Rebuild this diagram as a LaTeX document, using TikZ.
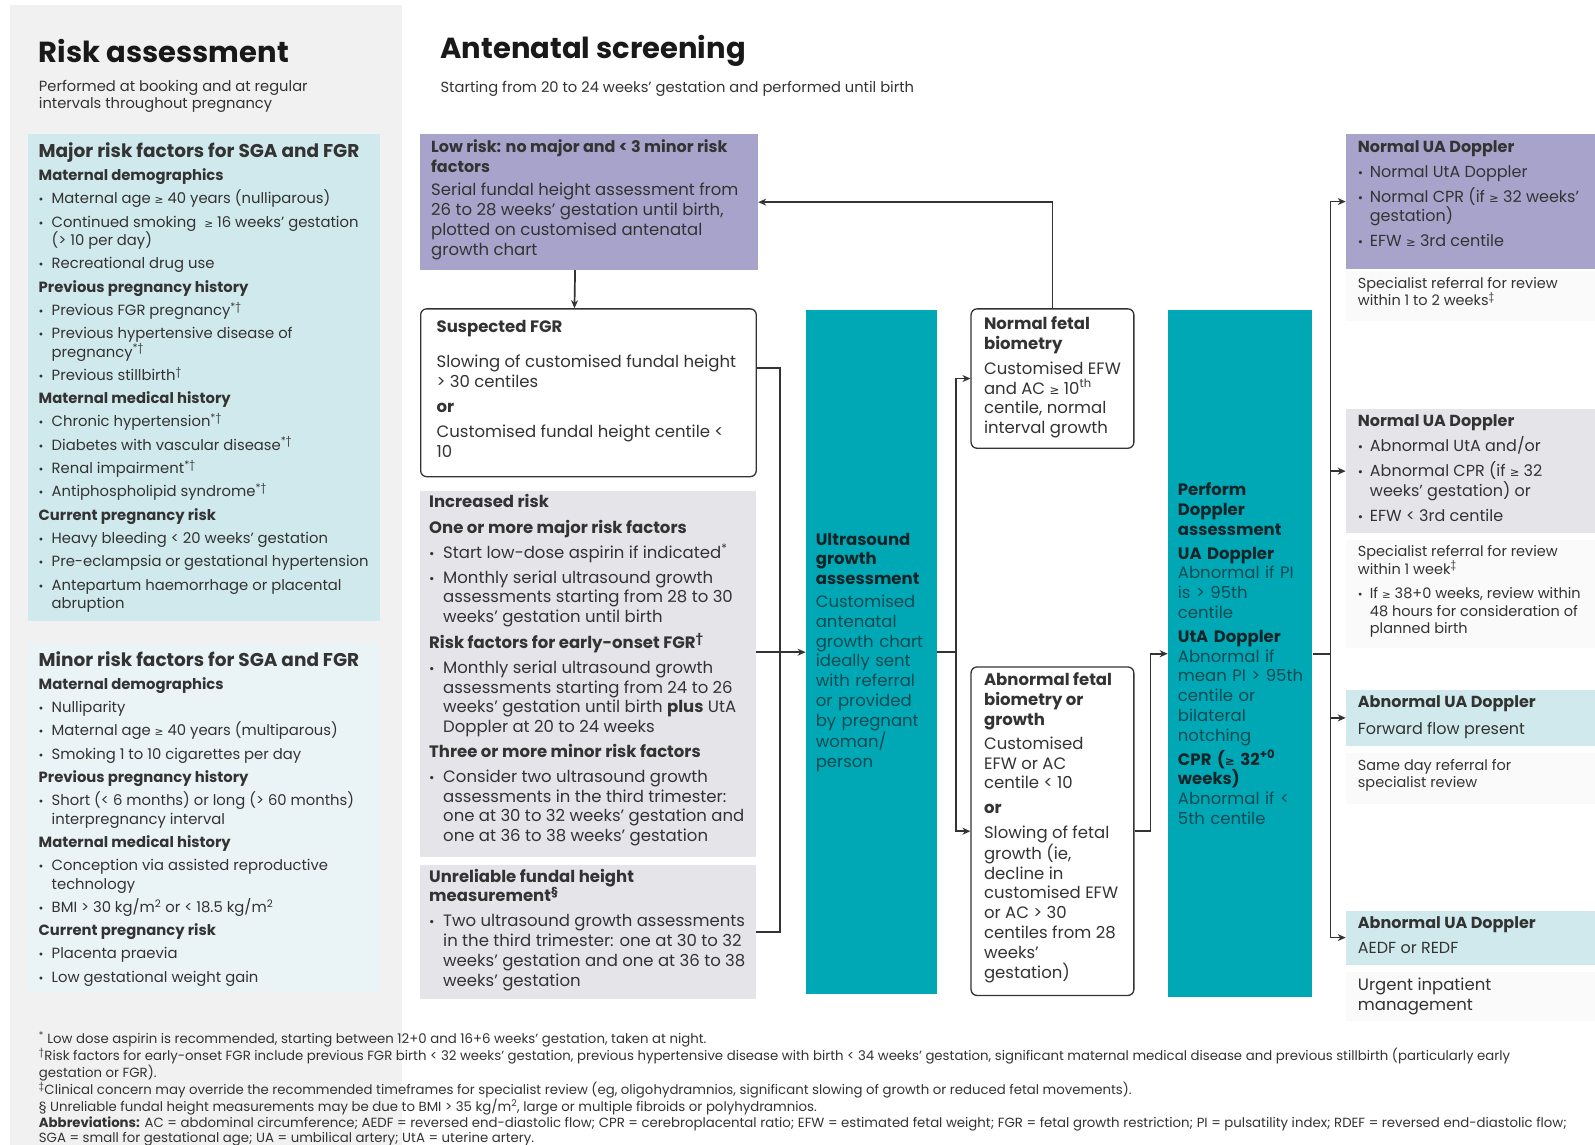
\documentclass[tikz,border=0pt]{standalone}
\usepackage{fontspec}
\setmainfont{Poppins}
\newfontfamily\dvsym{DejaVu Sans}
\usetikzlibrary{positioning, arrows.meta, calc}
\definecolor{panelgray}{HTML}{F1F1F1}
\definecolor{majorbg}{HTML}{D0E9ED}
\definecolor{minorbg}{HTML}{EAF4F6}
\definecolor{lowpurple}{HTML}{A7A3CB}
\definecolor{incgray}{HTML}{E5E4E9}
\definecolor{usteal}{HTML}{00A8B5}
\definecolor{tealhead}{HTML}{14252A}
\definecolor{tealtext}{HTML}{0A4A52}
\definecolor{bodytext}{HTML}{333333}
\definecolor{notebg}{HTML}{FAFAFA}
\definecolor{linegray}{HTML}{333333}

\newlength\itemsk \setlength\itemsk{5pt}
\newlength\bulind \setlength\bulind{13pt}
\newcommand{\gsym}{{\dvsym\scalebox{0.72}{≥}}}
\newcommand{\fleft}{\fontsize{14.8}{18.3}\selectfont}
\newcommand{\fmid}{\fontsize{16.5}{19.8}\selectfont}
\newcommand{\fright}{\fontsize{16}{19.5}\selectfont}
\newcommand{\fnote}{\fontsize{14.5}{17.5}\selectfont}
\newcommand{\bhead}[1]{\par\vspace{\itemsk}\noindent{\bfseries #1}}
\newcommand{\bitem}[1]{\par\vspace{\itemsk}\hangindent=\bulind\hangafter=1\noindent\hbox to \bulind{\scalebox{0.8}{\textbullet}\hfil}#1}
\newcommand{\tbox}[3]{\begin{minipage}[t][#1][t]{#2}\raggedright#3\end{minipage}}

\begin{document}
\begin{tikzpicture}[x=1pt, y=-1pt,
    node distance=2pt,
    txtbox/.style={anchor=north west, inner xsep=11pt, inner ysep=8pt, text=bodytext},
    fetalbox/.style={txtbox, draw=linegray, line width=1.3pt, rounded corners=6pt, fill=white},
    tealcol/.style={anchor=north west, fill=usteal, inner xsep=10pt, align=left, font=\fmid},
    rbox/.style={txtbox, inner xsep=12pt, inner ysep=6pt, minimum width=249.3pt},
    notebox/.style={fill=notebg, inner xsep=12pt, inner ysep=6pt, text=bodytext},
    title/.style={anchor=west, inner sep=0pt, font=\fontsize{29}{34}\selectfont\bfseries, text=black!90},
    subtitle/.style={anchor=north west, inner sep=0pt, align=left, font=\fontsize{14.7}{17.3}\selectfont, text=bodytext},
    conn/.style={draw=linegray, line width=1.7pt},
    arr/.style={conn, -{Stealth[length=8pt, width=7pt]}},
  ]
  \useasboundingbox (0,0) rectangle (1595,1145);
  \fill[white] (0,0) rectangle (1595,1145);

  % ── Risk assessment panel ──
  \fill[panelgray] (10,5) rectangle (402,1145);
  \node[title] (risktitle) at (38.7,51) {Risk assessment};
  \node[subtitle] (risksub) at (38.7,80) {Performed at booking and at regular\\intervals throughout pregnancy};

  \node[txtbox, fill=majorbg] (major) at (27.5,134.3) {\tbox{470pt}{330pt}{\fleft
    {\fontsize{18.5}{20}\selectfont\bfseries Major risk factors for SGA and FGR}
    \bhead{Maternal demographics}
    \bitem{Maternal age \gsym{} 40 years (nulliparous)}
    \bitem{Continued smoking \ \gsym{} 16 weeks’ gestation\newline (> 10 per day)}
    \bitem{Recreational drug use}
    \bhead{Previous pregnancy history}
    \bitem{Previous FGR pregnancy\textsuperscript{*†}}
    \bitem{Previous hypertensive disease of\newline pregnancy\textsuperscript{*†}}
    \bitem{Previous stillbirth\textsuperscript{†}}
    \bhead{Maternal medical history}
    \bitem{Chronic hypertension\textsuperscript{*†}}
    \bitem{Diabetes with vascular disease\textsuperscript{*†}}
    \bitem{Renal impairment\textsuperscript{*†}}
    \bitem{Antiphospholipid syndrome\textsuperscript{*†}}
    \bhead{Current pregnancy risk}
    \bitem{Heavy bleeding < 20 weeks’ gestation}
    \bitem{Pre-eclampsia or gestational hypertension}
    \bitem{Antepartum haemorrhage or placental\newline abruption}}};

  \node[txtbox, fill=minorbg] (minor) at (27.5,643) {\tbox{333pt}{330pt}{\fleft
    {\fontsize{18.5}{20}\selectfont\bfseries Minor risk factors for SGA and FGR}
    \bhead{Maternal demographics}
    \bitem{Nulliparity}
    \bitem{Maternal age \gsym{} 40 years (multiparous)}
    \bitem{Smoking 1 to 10 cigarettes per day}
    \bhead{Previous pregnancy history}
    \bitem{Short (< 6 months) or long (> 60 months)\newline interpregnancy interval}
    \bhead{Maternal medical history}
    \bitem{Conception via assisted reproductive\newline technology}
    \bitem{BMI > 30 kg/m\textsuperscript{2} or < 18.5 kg/m\textsuperscript{2}}
    \bhead{Current pregnancy risk}
    \bitem{Placenta praevia}
    \bitem{Low gestational weight gain}}};

  % ── Antenatal screening ──
  \node[title] (antitle) at (440.4,51) {Antenatal screening};
  \node[subtitle, anchor=west] (ansub) at (440.4,88.5) {Starting from 20 to 24 weeks’ gestation and performed until birth};

  \node[txtbox, fill=lowpurple, inner ysep=5pt] (lowrisk) at (420,134.3) {\tbox{125.3pt}{315.8pt}{\fmid
    {\fontsize{16}{20.3}\selectfont\bfseries Low risk: no major and < 3 minor risk\newline factors}
    \par\vspace{4pt}Serial fundal height assessment from\newline 26 to 28 weeks’ gestation until birth,\newline
    plotted on customised antenatal\newline growth chart}};

  \node[fetalbox, inner xsep=16pt, inner ysep=11pt] (suspfgr) at (420,308.2) {\tbox{145.8pt}{303.6pt}{\fmid
    {\bfseries Suspected FGR}
    \par\vspace{16pt}Slowing of customised fundal height\newline > 30 centiles
    \bhead{or}
    \par\vspace{5pt}Customised fundal height centile <\newline 10}};

  \node[txtbox, fill=incgray, inner xsep=9pt, inner ysep=4pt] (incrisk) at (420,490.3) {\tbox{358.2pt}{317.6pt}{\fmid
    \setlength\bulind{14pt}
    {\bfseries Increased risk}
    \par\vspace{6pt}{\bfseries One or more major risk factors}
    \bitem{Start low-dose aspirin if indicated\textsuperscript{*}}
    \bitem{Monthly serial ultrasound growth\newline assessments starting from 28 to 30\newline weeks’ gestation until birth}
    \bhead{Risk factors for early-onset FGR\textsuperscript{†}}
    \bitem{Monthly serial ultrasound growth\newline assessments starting from 24 to 26\newline
      weeks’ gestation until birth \textbf{plus} UtA\newline Doppler at 20 to 24 weeks}
    \bhead{Three or more minor risk factors}
    \bitem{Consider two ultrasound growth\newline assessments in the third trimester:\newline
      one at 30 to 32 weeks’ gestation and\newline one at 36 to 38 weeks’ gestation}}};

  \node[txtbox, fill=incgray, inner xsep=9pt, inner ysep=4pt] (unrel) at (420,864.6) {\tbox{126.4pt}{317.6pt}{\fmid
    \setlength\bulind{14pt}
    {\bfseries Unreliable fundal height\newline measurement\textsuperscript{§}}
    \bitem{Two ultrasound growth assessments\newline in the third trimester: one at 30 to 32\newline
      weeks’ gestation and one at 36 to 38\newline weeks’ gestation}}};

  % ── Ultrasound and fetal biometry ──
  \node[tealcol, text width=111.2pt, minimum width=131.2pt, minimum height=683.6pt] (us) at (805.6,310.2)
    {\bfseries\color{tealhead}Ultrasound\\growth\\assessment\\[3pt]
     \mdseries\color{tealtext}Customised\\antenatal\\\mbox{growth chart}\\\mbox{ideally sent}\\\mbox{with referral}\\\mbox{or provided}\\\mbox{by pregnant}\\woman/\\person};

  \node[fetalbox, inner xsep=13pt] (normfb) at (970.4,308.2) {\tbox{123.4pt}{136.8pt}{\fmid
    {\bfseries Normal fetal\newline biometry}
    \par\vspace{5pt}\mbox{Customised EFW}\newline and AC \gsym{} 10\textsuperscript{th}\newline centile, normal\newline interval growth}};

  \node[fetalbox, inner xsep=13pt, inner ysep=6pt] (abnfb) at (970.4,666.3) {\tbox{316.5pt}{136.8pt}{\fmid
    {\bfseries \mbox{Abnormal fetal}\newline biometry or\newline growth}
    \par\vspace{4pt}Customised\newline EFW or AC\newline centile < 10
    \bhead{or}
    \par\vspace{5pt}Slowing of fetal\newline growth (ie,\newline decline in\newline \mbox{customised EFW}\newline
    or AC > 30\newline \mbox{centiles from 28}\newline weeks’\newline gestation)}};

  % ── Doppler ──
  \node[tealcol, text width=124.5pt, minimum width=144.5pt, minimum height=686.7pt] (doppler) at (1167.7,310.2)
    {\bfseries\color{tealhead}Perform\\Doppler\\assessment\\[4pt]UA Doppler\\
     \mdseries\color{tealtext}\mbox{Abnormal if PI}\\is > 95th\\centile\\[4pt]
     \bfseries\color{tealhead}UtA Doppler\\
     \mdseries\color{tealtext}Abnormal if\\\mbox{mean PI > 95th}\\centile or\\bilateral\\notching\\[4pt]
     \bfseries\color{tealhead}\mbox{CPR (\gsym{} 32\textsuperscript{+0}}\\weeks)\\
     \mdseries\color{tealtext}Abnormal if <\\5th centile};

  % ── Outcomes ──
  \node[rbox, fill=lowpurple] (nuad1) at (1345.7,134.3) {\tbox{122.2pt}{225.3pt}{\fright
    \setlength\bulind{12pt}\setlength\itemsk{5.5pt}
    {\bfseries Normal UA Doppler}
    \bitem{Normal UtA Doppler}
    \bitem{Normal CPR (if \gsym{} 32 weeks’\newline gestation)}
    \bitem{EFW \gsym{} 3rd centile}}};
  \node[notebox, below=2pt of nuad1] (note1) {\tbox{37.8pt}{225.3pt}{\fnote
    Specialist referral for review\newline within 1 to 2 weeks\textsuperscript{‡}}};

  \node[rbox, fill=incgray] (nuad2) at (1345.7,408.9) {\tbox{112.1pt}{225.3pt}{\fright
    \setlength\bulind{12pt}\setlength\itemsk{5.5pt}
    {\bfseries Normal UA Doppler}
    \bitem{Abnormal UtA and/or}
    \bitem{Abnormal CPR (if \gsym{} 32\newline weeks’ gestation) or}
    \bitem{EFW < 3rd centile}}};
  \node[notebox, below=6pt of nuad2] (note2) {\tbox{96pt}{225.3pt}{\fnote
    \setlength\bulind{12pt}\setlength\itemsk{7pt}
    Specialist referral for review\newline within 1 week\textsuperscript{‡}
    \bitem{If \gsym{} 38+0 weeks, review within\newline 48 hours for consideration of\newline planned birth}}};

  \node[rbox, fill=majorbg] (abuad1) at (1345.7,689.7) {\tbox{44pt}{225.3pt}{\fright
    {\bfseries Abnormal UA Doppler}
    \par\vspace{7pt}Forward flow present}};
  \node[notebox, below=7pt of abuad1] (note3) {\tbox{39pt}{225.3pt}{\fnote
    Same day referral for\newline specialist review}};

  \node[rbox, fill=majorbg] (abuad2) at (1345.7,910.4) {\tbox{42pt}{225.3pt}{\fright
    {\bfseries Abnormal UA Doppler}
    \par\vspace{6pt}AEDF or REDF}};
  \node[notebox, below=7pt of abuad2] (note4) {\tbox{37pt}{225.3pt}{\fontsize{16.5}{20.3}\selectfont
    Urgent inpatient\newline management}};

  % ── Connectors ──
  \coordinate (jl) at (780.2,368.2);
  \coordinate (jm) at (956.2,641);
  \coordinate (jd) at (1150.4,641);
  \coordinate (jr) at (1330.5,641);

  \draw[arr] ([xshift=-14]lowrisk.south) -- ([xshift=-14]suspfgr.north);
  \draw[conn] (suspfgr.east |- jl) -- (jl) |- (unrel.east);
  \draw[arr] (incrisk.east |- us.west) -- (us.west);
  \draw[arr] (us.east) -- (us.east -| jm) |- (normfb.west);
  \draw[arr] (us.east -| jm) |- (abnfb.west);
  \draw[arr] (normfb.north) |- (lowrisk.east);
  \draw[arr] (abnfb.east) -- (abnfb.east -| jd) |- (doppler.west);
  \draw[arr] (doppler.east) -- (doppler.east -| jr) |- (nuad1.west);
  \draw[arr] (doppler.east -| jr) |- (nuad2.west);
  \draw[arr] (doppler.east -| jr) |- (abuad1.west);
  \draw[arr] (doppler.east -| jr) |- (abuad2.west);

  % ── Footnotes ──
  \node[anchor=north west, inner sep=0pt, align=left, font=\fontsize{13.3}{15.5}\selectfont, text=bodytext] (notes) at (38.7,1031)
    {\setlength\lineskiplimit{-10pt}%
     \textsuperscript{*} Low dose aspirin is recommended, starting between 12+0 and 16+6 weeks’ gestation, taken at night.\\
     \textsuperscript{†}Risk factors for early-onset FGR include previous FGR birth < 32 weeks’ gestation, previous hypertensive disease with birth < 34 weeks’ gestation, significant maternal medical disease and previous stillbirth (particularly early\\
     gestation or FGR).\\
     \textsuperscript{‡}Clinical concern may override the recommended timeframes for specialist review (eg, oligohydramnios, significant slowing of growth or reduced fetal movements).\\
     § Unreliable fundal height measurements may be due to BMI > 35 kg/m\textsuperscript{2}, large or multiple fibroids or polyhydramnios.\\
     \textbf{Abbreviations:} AC = abdominal circumference; AEDF = reversed end-diastolic flow; CPR = cerebroplacental ratio; EFW = estimated fetal weight; FGR = fetal growth restriction; PI = pulsatility index; RDEF = reversed end-diastolic flow;\\
     SGA = small for gestational age; UA = umbilical artery; UtA = uterine artery.};
\end{tikzpicture}
\end{document}
